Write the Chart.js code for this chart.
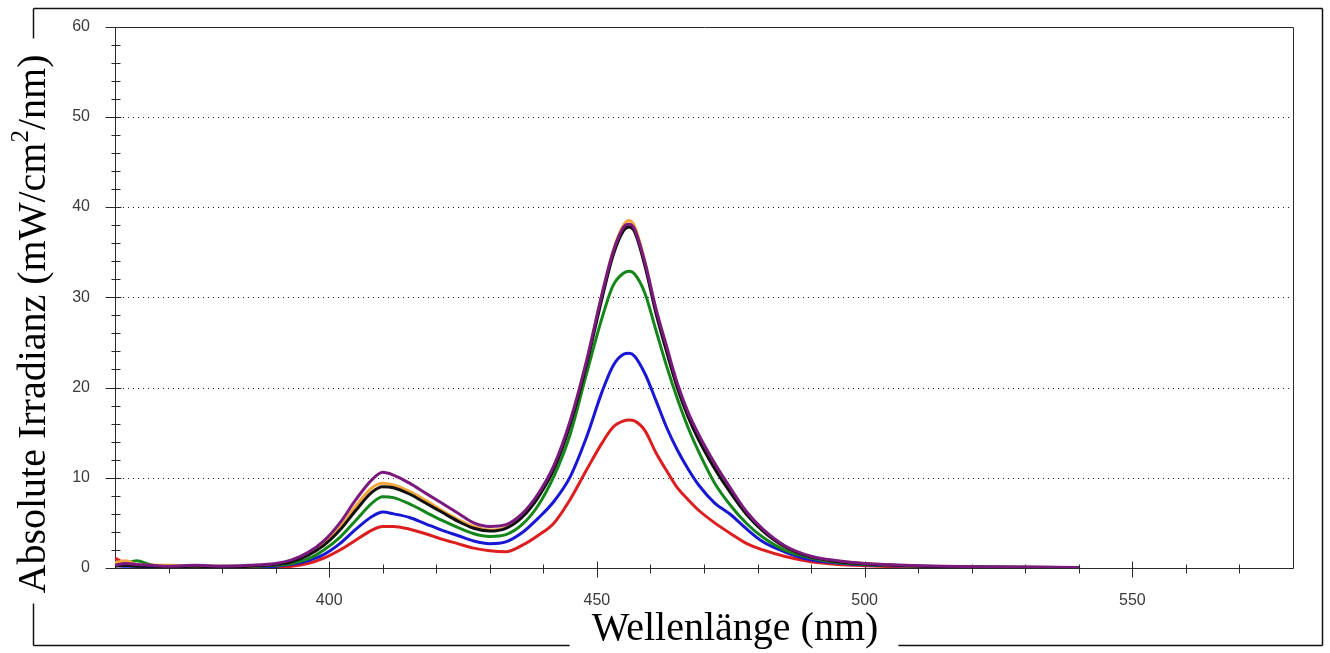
<!DOCTYPE html>
<html>
<head>
<meta charset="utf-8">
<script src="https://cdn.jsdelivr.net/npm/chart.js@4.4.0/dist/chart.umd.min.js"></script>
<style>
  html, body { margin: 0; padding: 0; background: #fff; }
  canvas { display: block; }
</style>
</head>
<body>
<canvas id="chart" width="1330" height="653"></canvas>
<script>
// wavelengths (nm) shared by all six spectra
const WAVELENGTHS = [
  360, 362, 364, 367, 370, 375, 380, 385, 390, 393, 396, 399, 402, 405, 408,
  410, 412, 415, 418, 421, 424, 427, 430, 433, 436, 439, 442, 445, 448, 451,
  453, 455, 456, 457, 459, 461, 463, 465, 467, 469, 472, 475, 478, 481, 485,
  490, 495, 500, 505, 510, 520, 530, 540,
];

// irradiance in mW/cm2/nm
const PURPLE = [
  0.3, 0.5, 0.4, 0.3, 0.2, 0.3, 0.2, 0.3, 0.5, 0.9, 1.7, 3.0, 5.0, 7.6, 9.8,
  10.6, 10.3, 9.4, 8.3, 7.2, 6.1, 5.0, 4.6, 4.8, 6.0, 8.2, 11.4, 16.3, 22.8, 30.5,
  35.0, 37.8, 38.1, 37.6, 33.8, 28.8, 24.6, 20.5, 17.3, 14.8, 11.6, 8.8, 6.2, 4.3, 2.5,
  1.3, 0.8, 0.5, 0.35, 0.25, 0.15, 0.1, 0.05,
];
const BLACK = [
  0.2, 0.3, 0.2, 0.2, 0.1, 0.2, 0.1, 0.2, 0.4, 0.7, 1.4, 2.5, 4.2, 6.4, 8.4,
  9.0, 8.9, 8.2, 7.2, 6.2, 5.2, 4.4, 4.1, 4.4, 5.6, 7.8, 11.0, 15.9, 22.4, 30.0,
  34.6, 37.4, 37.8, 37.3, 33.4, 28.3, 24.0, 20.0, 16.8, 14.2, 11.0, 8.3, 5.9, 4.1, 2.4,
  1.2, 0.7, 0.45, 0.3, 0.2, 0.12, 0.08, 0.05,
];
const ORANGE = [
  0.6, 0.8, 0.4, 0.3, 0.3, 0.2, 0.2, 0.2, 0.4, 0.8, 1.5, 2.7, 4.5, 6.9, 8.9,
  9.4, 9.2, 8.5, 7.5, 6.4, 5.4, 4.6, 4.2, 4.5, 5.7, 7.9, 11.2, 16.2, 22.8, 30.4,
  35.1, 38.0, 38.5, 37.9, 33.9, 28.6, 24.2, 20.1, 16.9, 14.3, 11.1, 8.4, 6.0, 4.2, 2.4,
  1.25, 0.75, 0.5, 0.3, 0.2, 0.12, 0.08, 0.05,
];
const GREEN = [
  0.4, 0.5, 0.8, 0.3, 0.2, 0.2, 0.2, 0.2, 0.3, 0.5, 1.0, 2.0, 3.4, 5.3, 7.2,
  7.9, 7.8, 7.1, 6.2, 5.3, 4.5, 3.8, 3.5, 3.7, 4.8, 6.9, 10.2, 14.8, 21.4, 27.8,
  31.3, 32.7, 32.9, 32.6, 30.4, 26.4, 22.4, 18.8, 15.6, 12.9, 9.4, 6.9, 4.9, 3.4, 2.0,
  1.1, 0.6, 0.4, 0.3, 0.2, 0.1, 0.05, 0.05,
];
const BLUE = [
  0.3, 0.2, 0.2, 0.1, 0.1, 0.1, 0.1, 0.1, 0.2, 0.4, 0.8, 1.5, 2.7, 4.3, 5.7,
  6.2, 6.0, 5.6, 4.9, 4.2, 3.6, 3.0, 2.7, 2.9, 3.9, 5.5, 7.4, 10.1, 14.4, 19.6,
  22.4, 23.7, 23.8, 23.5, 21.5, 18.6, 15.6, 13.1, 11.0, 9.2, 7.2, 5.9, 4.3, 2.9, 1.8,
  0.9, 0.55, 0.35, 0.25, 0.2, 0.1, 0.05, 0.05,
];
const RED = [
  1.1, 0.5, 0.3, 0.2, 0.1, 0.05, 0.1, 0.05, 0.1, 0.2, 0.5, 1.1, 2.0, 3.1, 4.2,
  4.6, 4.6, 4.3, 3.8, 3.2, 2.7, 2.2, 1.9, 1.8, 2.5, 3.6, 5.0, 7.6, 10.8, 13.9,
  15.6, 16.3, 16.4, 16.3, 15.2, 12.8, 10.8, 8.9, 7.6, 6.4, 5.0, 3.8, 2.7, 2.0, 1.3,
  0.7, 0.4, 0.25, 0.15, 0.1, 0.05, 0.03, 0.02,
];

const X_TICKS = [400, 450, 500, 550];
const X_MINOR = [370, 380, 390, 410, 420, 430, 440, 460, 470, 480, 490, 510, 520, 530, 540, 560, 570];
const Y_TICKS = [0, 10, 20, 30, 40, 50, 60];
const Y_MINOR = [2, 4, 6, 8, 12, 14, 16, 18, 22, 24, 26, 28, 32, 34, 36, 38, 42, 44, 46, 48, 52, 54, 56, 58];
const GRID_VALUES = [10, 20, 30, 40, 50];

const X_TITLE = 'Wellenlänge (nm)';
const Y_TITLE = ['Absolute Irradianz (mW/cm', '2', '/nm)'];

// first one is drawn on top
const SERIES = [
  ['purple', '#7b1a7e', PURPLE],
  ['black', '#111111', BLACK],
  ['orange', '#f6a63a', ORANGE],
  ['green', '#14861a', GREEN],
  ['blue', '#1717d4', BLUE],
  ['red', '#dc1e1e', RED],
];

const SERIF = '"Liberation Serif", "Times New Roman", serif';

const line = (ctx, x1, y1, x2, y2) => {
  ctx.beginPath();
  ctx.moveTo(x1, y1);
  ctx.lineTo(x2, y2);
  ctx.stroke();
};

// dotted grid, plot box and tick marks, under the curves
const axesPlugin = {
  id: 'axesPlugin',
  beforeDatasetsDraw(chart) {
    const { ctx, chartArea: a, scales } = chart;
    const x = scales.x;
    const y = scales.y;
    ctx.save();
    ctx.strokeStyle = '#222';
    ctx.lineWidth = 1;
    ctx.setLineDash([1, 4]);
    GRID_VALUES.forEach((v) => {
      let py = Math.round(y.getPixelForValue(v)) + 0.5;
      line(ctx, a.left + 3, py, a.right - 3, py);
    });
    ctx.setLineDash([]);

    ctx.strokeStyle = '#2a2a2a';
    let l = Math.round(a.left) + 0.5;
    let r = Math.round(a.right) + 0.5;
    let t = Math.round(a.top) + 0.5;
    let b = Math.round(a.bottom) + 0.5;
    line(ctx, l, t, r, t);
    line(ctx, r, t, r, b);
    line(ctx, l, b, r, b);
    line(ctx, l, t, l, b);

    Y_TICKS.forEach((v) => {
      let py = Math.round(y.getPixelForValue(v)) + 0.5;
      line(ctx, l - 10, py, l + 6, py);
    });
    Y_MINOR.forEach((v) => {
      let py = Math.round(y.getPixelForValue(v)) + 0.5;
      line(ctx, l - 4, py, l + 5, py);
    });
    X_TICKS.forEach((v) => {
      let px = Math.round(x.getPixelForValue(v)) + 0.5;
      line(ctx, px, b - 7, px, b + 9);
    });
    X_MINOR.forEach((v) => {
      let px = Math.round(x.getPixelForValue(v)) + 0.5;
      line(ctx, px, b - 4, px, b + 5);
    });
    ctx.restore();
  },
};

// axis titles and the outer frame that is broken around them
const titlesPlugin = {
  id: 'titlesPlugin',
  afterDraw(chart) {
    const ctx = chart.ctx;
    const left = 33.5, top = 8.5, right = 1322.5, bottom = 645.5;
    ctx.save();
    ctx.fillStyle = '#000';
    ctx.strokeStyle = '#111';
    ctx.lineWidth = 1.5;

    // x title
    ctx.font = '40px ' + SERIF;
    ctx.textBaseline = 'alphabetic';
    ctx.textAlign = 'center';
    let xw = ctx.measureText(X_TITLE).width;
    let xc = 735;
    ctx.fillText(X_TITLE, xc, 640);

    // y title, rotated, with superscript 2
    let w1 = ctx.measureText(Y_TITLE[0]).width;
    let w3 = ctx.measureText(Y_TITLE[2]).width;
    ctx.font = '25px ' + SERIF;
    let w2 = ctx.measureText(Y_TITLE[1]).width;
    let yw = w1 + w2 + w3;
    let yc = 324;
    ctx.translate(45, yc);
    ctx.rotate(-Math.PI / 2);
    ctx.textAlign = 'left';
    let sx = -yw / 2;
    ctx.font = '40px ' + SERIF;
    ctx.fillText(Y_TITLE[0], sx, 0);
    ctx.font = '25px ' + SERIF;
    ctx.fillText(Y_TITLE[1], sx + w1, -17);
    ctx.font = '40px ' + SERIF;
    ctx.fillText(Y_TITLE[2], sx + w1 + w2, 0);
    ctx.setTransform(1, 0, 0, 1, 0, 0);

    // frame
    line(ctx, left, top, right, top);
    line(ctx, right, top, right, bottom);
    line(ctx, left, bottom, xc - xw / 2 - 22, bottom);
    line(ctx, xc + xw / 2 + 20, bottom, right, bottom);
    line(ctx, left, top, left, yc - yw / 2 - 16);
    line(ctx, left, yc + yw / 2 + 10, left, bottom);
    ctx.restore();
  },
};

const datasets = SERIES.map(([label, color, values]) => ({
  label: label,
  data: WAVELENGTHS.map((w, i) => ({ x: w, y: values[i] })),
  borderColor: color,
  backgroundColor: color,
  borderWidth: 3,
  pointRadius: 0,
  fill: false,
  cubicInterpolationMode: 'monotone',
}));

new Chart(document.getElementById('chart'), {
  type: 'line',
  data: { datasets: datasets },
  options: {
    responsive: false,
    animation: false,
    devicePixelRatio: 1,
    layout: { padding: { left: 0, top: 25, right: 37, bottom: 0 } },
    plugins: {
      legend: { display: false },
      tooltip: { enabled: false },
    },
    scales: {
      x: {
        type: 'linear',
        min: 360,
        max: 580,
        grid: { display: false },
        border: { display: false },
        afterBuildTicks: (s) => { s.ticks = X_TICKS.map((v) => ({ value: v })); },
        afterFit: (s) => { s.height = 85; },
        ticks: {
          padding: 15,
          color: '#3a3a3a',
          font: { family: '"Liberation Sans", Arial, sans-serif', size: 16 },
        },
      },
      y: {
        min: 0,
        max: 60,
        grid: { display: false },
        border: { display: false },
        afterBuildTicks: (s) => { s.ticks = Y_TICKS.map((v) => ({ value: v })); },
        afterFit: (s) => { s.width = 115; },
        ticks: {
          padding: 17,
          color: '#3a3a3a',
          font: { family: '"Liberation Sans", Arial, sans-serif', size: 16 },
        },
      },
    },
  },
  plugins: [axesPlugin, titlesPlugin],
});
</script>
</body>
</html>
